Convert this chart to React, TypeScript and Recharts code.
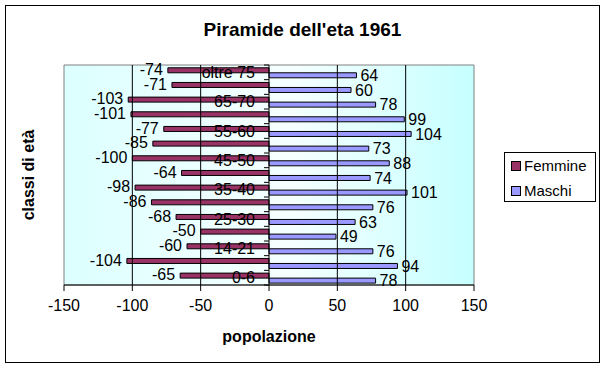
import React from 'react';
import { BarChart, Bar, XAxis, YAxis, ReferenceLine, ReferenceArea, LabelList, Legend, Label } from 'recharts';

const categories = ['oltre 75', '70-75', '65-70', '60-65', '55-60', '50-55', '45-50', '40-45', '35-40', '30-35', '25-30', '21-25', '14-21', '6-14', '0-6'];
const femmine = [-74, -71, -103, -101, -77, -85, -100, -64, -98, -86, -68, -50, -60, -104, -65];
const maschi = [64, 60, 78, 99, 104, 73, 88, 74, 101, 76, 63, 49, 76, 94, 78];
const xTicks = [-150, -100, -50, 0, 50, 100, 150];
const gridValues = [-100, -50, 50, 100];

const data = categories.map((c, i) => ({ classe: c, Femmine: femmine[i], Maschi: maschi[i] }));

const W = 605;
const H = 368;
const PLOT_LEFT = 64;
const PLOT_RIGHT = 474;
const PLOT_TOP = 65;
const PLOT_BOTTOM = 285;
const ZERO_X = PLOT_LEFT + ((PLOT_RIGHT - PLOT_LEFT) * 150) / 300;
const BAND = (PLOT_BOTTOM - PLOT_TOP) / categories.length;
const FONT = "'Liberation Sans', Arial, sans-serif";

const FEM = '#993366';
const MAS = '#9999ff';

const CategoryTick: React.FC<any> = ({ y, payload, index }) => {
  const half = BAND / 2;
  return (
    <g>
      <line x1={ZERO_X - 5} x2={ZERO_X} y1={y - half} y2={y - half} stroke="#000" />
      {index === categories.length - 1 && (
        <line x1={ZERO_X - 5} x2={ZERO_X} y1={y + half} y2={y + half} stroke="#000" />
      )}
      {index % 2 === 0 && (
        <text x={ZERO_X - 14} y={y} dy="0.35em" textAnchor="end" fontSize={16} fill="#000">
          {payload.value}
        </text>
      )}
    </g>
  );
};

// label placed past the outer end of the bar, whichever side it grows to
const EndLabel: React.FC<any> = ({ x, y, width, height, value }) => {
  const left = Math.min(x, x + width);
  const right = Math.max(x, x + width);
  const neg = value < 0;
  return (
    <text
      x={neg ? left - 5 : right + 4}
      y={y + height / 2 - (neg ? 1 : 0)}
      dy="0.35em"
      textAnchor={neg ? 'end' : 'start'}
      fontSize={16}
      fill="#000"
    >
      {value}
    </text>
  );
};

const LegendBox: React.FC = () => (
  <div style={{ position: 'relative', width: '100%', height: '100%', fontFamily: FONT, fontSize: 15 }}>
    {[
      { name: 'Femmine', color: FEM, top: 13 },
      { name: 'Maschi', color: MAS, top: 38 },
    ].map((it) => (
      <div key={it.name} style={{ position: 'absolute', left: 6, top: it.top - 9, height: 18, display: 'flex', alignItems: 'center' }}>
        <span style={{ display: 'inline-block', width: 8, height: 8, background: it.color, border: '1px solid #000', marginRight: 3 }} />
        <span style={{ lineHeight: '18px' }}>{it.name}</span>
      </div>
    ))}
  </div>
);

export default function App() {
  return (
    <div style={{ position: 'absolute', left: 0, top: 0, width: W, height: H, background: '#fff', fontFamily: FONT }}>
      <div style={{ position: 'absolute', left: 5, top: 5, width: 595, height: 358, border: '1px solid #000', boxSizing: 'border-box' }} />
      <div style={{ position: 'absolute', left: 0, top: 19, width: W, textAlign: 'center', fontWeight: 'bold', fontSize: 19, lineHeight: '22px' }}>
        Piramide dell'eta 1961
      </div>
      <div style={{ position: 'absolute', left: 0, top: 0 }}>
        <BarChart
          width={W}
          height={H}
          data={data}
          layout="vertical"
          margin={{ top: PLOT_TOP, right: W - PLOT_RIGHT, bottom: H - PLOT_BOTTOM - 30, left: 0 }}
          barCategoryGap="19%"
          barGap={0}
        >
          <defs>
            <linearGradient id="plotBg" x1="0" y1="0" x2="1" y2="0">
              <stop offset="0%" stopColor="#dcffff" />
              <stop offset="55%" stopColor="#f6ffff" />
              <stop offset="100%" stopColor="#c6ffff" />
            </linearGradient>
          </defs>
          <ReferenceArea x1={-150} x2={150} fill="url(#plotBg)" fillOpacity={1} stroke="#808080" strokeWidth={1} />
          {gridValues.map((v) => (
            <ReferenceLine key={v} x={v} stroke="#000" strokeWidth={1} />
          ))}
          <XAxis
            type="number"
            domain={[-150, 150]}
            ticks={xTicks}
            height={30}
            stroke="#000"
            tick={{ fill: '#000', fontSize: 16 }}
            tickSize={6}
            tickMargin={9}
          >
            <Label value="popolazione" position="bottom" offset={16} fill="#000" fontSize={16} fontWeight="bold" />
          </XAxis>
          <YAxis
            type="category"
            dataKey="classe"
            width={PLOT_LEFT}
            axisLine={false}
            tickLine={false}
            interval={0}
            tick={<CategoryTick />}
          >
            <Label value="classi di età" angle={-90} position="center" dx={-4} fill="#000" fontSize={16} fontWeight="bold" />
          </YAxis>
          <Bar dataKey="Femmine" fill={FEM} stroke="#000" strokeWidth={1} isAnimationActive={false}>
            <LabelList dataKey="Femmine" content={<EndLabel />} />
          </Bar>
          <Bar dataKey="Maschi" fill={MAS} stroke="#000" strokeWidth={1} isAnimationActive={false}>
            <LabelList dataKey="Maschi" content={<EndLabel />} />
          </Bar>
          <ReferenceLine x={0} stroke="#000" strokeWidth={1} />
          <Legend
            layout="horizontal"
            verticalAlign="middle"
            align="center"
            wrapperStyle={{ left: 504, top: 152, width: 92, height: 50, border: '1px solid #000', boxSizing: 'border-box', background: '#fff' }}
            content={<LegendBox />}
          />
        </BarChart>
      </div>
    </div>
  );
}
